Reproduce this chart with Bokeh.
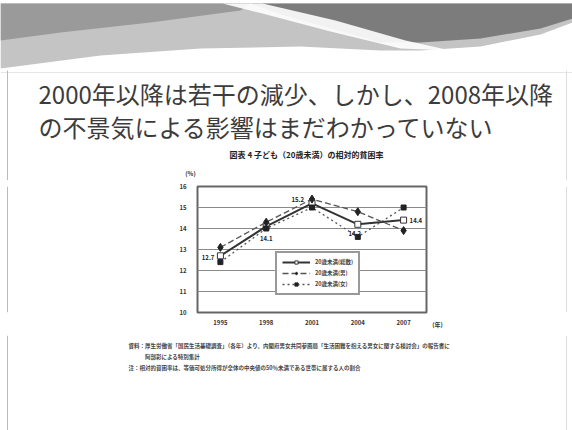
from bokeh.plotting import figure
from bokeh.layouts import column, row
from bokeh.models import (Range1d, ColumnDataSource, LabelSet, Legend, LegendItem,
                          FixedTicker, FactorRange)
from bokeh.core.properties import value
from bokeh.embed import file_html
from bokeh.resources import INLINE

# ---------------- data ----------------
years = ["1995", "1998", "2001", "2004", "2007"]
total = [12.7, 14.1, 15.2, 14.2, 14.4]
male = [13.1, 14.3, 15.4, 14.8, 13.9]
female = [12.4, 14.0, 15.0, 13.6, 15.0]
y_ticks = [10, 11, 12, 13, 14, 15, 16]
series_names = ["20歳未満(総数)", "20歳未満(男)", "20歳未満(女)"]
year_unit = "(年)"
pct_unit = "(%)"

title_lines = ["2000年以降は若干の減少、しかし、2008年以降",
               "の不景気による影響はまだわかっていない"]
chart_title = "図表 4 子ども（20歳未満）の相対的貧困率"
notes = ["資料：厚生労働省「国民生活基礎調査」（各年）より、内閣府男女共同参画局「生活困難を抱える男女に関する検討会」の報告書に",
         "　　　阿部彩による特別集計",
         "注：相対的貧困率は、等価可処分所得が全体の中央値の50％未満である世帯に属する人の割合"]

JP = "Noto Sans CJK JP"
W = 572
H1, H2 = 180, 155
H3 = 430 - H1 - H2
LW, CW = 170, 258
FT, FB = 186, 312          # chart frame top / bottom on the page


def deco(width, height, xr, yr):
    f = figure(width=width, height=height, x_range=xr, y_range=yr,
               output_backend="svg", toolbar_location=None, min_border=0)
    f.axis.visible = False
    f.grid.visible = False
    f.outline_line_color = None
    f.background_fill_color = "white"
    f.border_fill_color = "white"
    return f


# ---------------- header ----------------
hdr = deco(W, H1, Range1d(0, W), Range1d(H1, 0))
hdr.patch([0, 572, 572, 540, 480, 420, 380, 300, 200, 100, 0],
          [3, 3, 22, 34, 46, 50, 50, 46, 48, 55, 68], fill_color="#c4c4c4", line_color=None)
hdr.patch([0, 250, 240, 150, 60, 0], [3, 3, 10, 22, 32, 40], fill_color="#9a9a9a", line_color=None)
hdr.patch([250, 572, 572, 540, 480, 420, 380, 330, 280],
          [3, 3, 18, 28, 38, 42, 42, 28, 14], fill_color="#7c7c7c", line_color=None)
hdr.patch([222, 262, 335, 405, 450, 400, 330, 262],
          [3, 3, 20, 40, 50, 48, 31, 13], fill_color="white", line_color=None, fill_alpha=0.9)
hdr.line([0, 572], [72, 72], line_color="#e6e6e6", line_width=1)
hdr.line([7, 7], [70, H1], line_color="#bbbbbb", line_width=1)
hdr.line([566, 566], [70, H1], line_color="#dddddd", line_width=1)
hdr.text(x=[38, 38], y=[93, 126], text=title_lines, text_font=value(JP), text_font_size="24px",
         text_color="#3c3c3c", text_baseline="middle", text_align="left")
hdr.text(x=[306], y=[154], text=[chart_title], text_font=value(JP), text_font_size="8px",
         text_font_style="bold", text_color="#222222", text_baseline="middle", text_align="center")
hdr.text(x=[190], y=[173], text=[pct_unit], text_font=value(JP), text_font_size="6px",
         text_font_style="bold", text_color="#333333", text_baseline="middle", text_align="center")

# ---------------- chart row ----------------
lpad = deco(LW, H2, Range1d(0, LW), Range1d(FB, FT))
lpad.line([7, 7], [FT, FB], line_color="#bbbbbb", line_width=1)

rpad = deco(W - LW - CW, H2, Range1d(LW + CW, W), Range1d(FB, FT))
rpad.line([566, 566], [FT, FB], line_color="#dddddd", line_width=1)
rpad.xaxis.visible = True
rpad.xaxis.ticker = FixedTicker(ticks=[437])
rpad.xaxis.major_label_overrides = {437: year_unit}

p = figure(width=CW, height=H2, x_range=FactorRange(*years), y_range=Range1d(10, 16),
           output_backend="svg", toolbar_location=None,
           min_border_left=27, min_border_right=2, min_border_top=6, min_border_bottom=23)
p.background_fill_color = "white"
p.border_fill_color = "white"
p.outline_line_color = "#666666"
p.outline_line_width = 2
p.xgrid.visible = False
p.ygrid.grid_line_color = "#8a8a8a"
p.ygrid.grid_line_width = 1
p.yaxis.ticker = FixedTicker(ticks=y_ticks)
for ax in (p.xaxis, p.yaxis, rpad.xaxis):
    ax.axis_line_color = None
    ax.major_tick_line_color = None
    ax.minor_tick_line_color = None
    ax.major_label_text_font_size = "6px"
    ax.major_label_text_font_style = "bold"
    ax.major_label_text_color = "#333333"
    ax.major_label_text_font = JP
    ax.major_label_standoff = 1
p.yaxis.major_label_standoff = 5

src = ColumnDataSource(dict(x=years, total=total, male=male, female=female,
                            lbl=["%.1f" % v for v in total]))

r_tot = p.line("x", "total", source=src, line_color="#333333", line_width=2)
s_tot = p.scatter("x", "total", source=src, marker="square", size=6, fill_color="white",
                  line_color="#333333", line_width=1)
r_m = p.line("x", "male", source=src, line_color="#555555", line_width=1.3, line_dash="6 3")
s_m = p.scatter("x", "male", source=src, marker="diamond", size=8, fill_color="#222222",
                line_color="#222222")
r_f = p.line("x", "female", source=src, line_color="#555555", line_width=1.3, line_dash="2 3")
s_f = p.scatter("x", "female", source=src, marker="square", size=5, fill_color="#222222",
                line_color="#222222")

# label placement (styling)
src.data["xo"] = [-6, 0, -8, -3, 6]
src.data["yo"] = [-2, -12, 4, -9, 0]
src.data["al"] = ["right", "center", "right", "center", "left"]
p.add_layout(LabelSet(x="x", y="total", text="lbl", source=src, x_offset="xo", y_offset="yo",
                      text_align="al", text_baseline="middle", text_font_size="6px",
                      text_font_style="bold", text_color="#222222", text_font=value(JP)))

legend = Legend(items=[LegendItem(label=series_names[0], renderers=[r_tot, s_tot]),
                       LegendItem(label=series_names[1], renderers=[r_m, s_m]),
                       LegendItem(label=series_names[2], renderers=[r_f, s_f])],
                location=(78, 17), orientation="vertical")
legend.label_text_font_size = "5.5px"
legend.label_text_font = JP
legend.label_text_font_style = "bold"
legend.label_height = 8
legend.glyph_height = 8
legend.glyph_width = 28
legend.spacing = 3
legend.padding = 5
legend.margin = 0
legend.border_line_color = "#333333"
legend.border_line_width = 2
legend.background_fill_color = "white"
legend.background_fill_alpha = 1
p.add_layout(legend, "center")

# ---------------- notes ----------------
nts = deco(W, H3, Range1d(0, W), Range1d(H3, 0))
nts.line([7, 7], [0, H3], line_color="#bbbbbb", line_width=1)
nts.line([566, 566], [0, H3], line_color="#dddddd", line_width=1)
nts.text(x=[128, 128, 128], y=[10, 21, 32], text=notes, text_font=value(JP),
         text_font_size="5.5px", text_font_style="bold", text_color="#444444",
         text_baseline="middle", text_align="left")

layout = column(hdr, row(lpad, p, rpad, spacing=0), nts, spacing=0)

open("out.html", "w").write(file_html(layout, INLINE))
